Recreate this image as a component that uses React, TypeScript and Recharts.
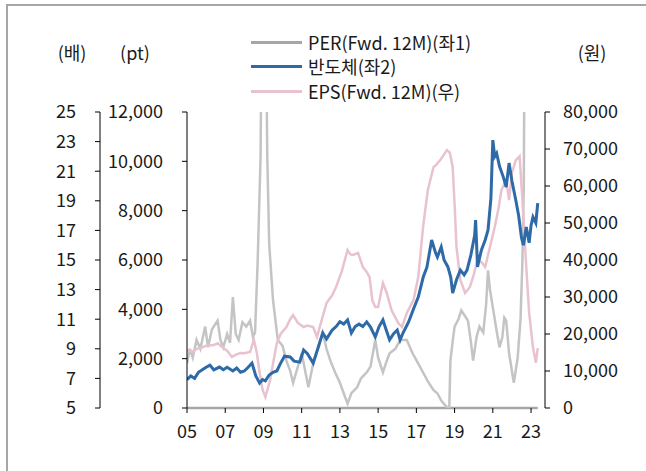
import React from 'react';
import { ComposedChart, Line, XAxis, YAxis, ReferenceLine } from 'recharts';

// PER (Fwd. 12M), left axis 1 (배)
const perYears = [
  2005.0, 2005.15, 2005.3, 2005.5, 2005.7, 2005.95, 2006.1, 2006.3, 2006.6, 2006.75, 2006.9,
  2007.1, 2007.25, 2007.4, 2007.55, 2007.7, 2007.9, 2008.1, 2008.3, 2008.45, 2008.56, 2008.7,
  2008.85, 2008.95, 2009.0, 2009.1, 2009.2, 2009.3, 2009.5, 2009.75, 2010.0, 2010.2, 2010.4,
  2010.55, 2010.8, 2011.0, 2011.2, 2011.35, 2011.6, 2011.85, 2012.1, 2012.3, 2012.5, 2012.75,
  2013.0, 2013.2, 2013.4, 2013.6, 2013.9, 2014.1, 2014.4, 2014.6, 2014.85, 2015.0, 2015.25,
  2015.4, 2015.6, 2015.9, 2016.15, 2016.5, 2016.8, 2017.1, 2017.35, 2017.6, 2017.9, 2018.1,
  2018.3, 2018.5, 2018.65, 2018.72, 2018.78, 2018.9, 2019.0, 2019.2, 2019.35, 2019.5, 2019.7,
  2019.85, 2019.97, 2020.15, 2020.3, 2020.5, 2020.65, 2020.75, 2020.85, 2021.0, 2021.2,
  2021.35, 2021.5, 2021.6, 2021.7, 2021.85, 2022.0, 2022.1, 2022.3, 2022.45, 2022.55, 2022.62,
  2022.7, 2022.8, 2023.35,
];
const perValues = [
  8.0, 9.0, 8.4, 9.6, 9.0, 10.5, 9.1, 10.3, 10.9, 9.6, 9.1,
  10.0, 9.4, 12.5, 10.0, 9.6, 10.8, 10.5, 10.9, 9.8, 10.1, 15.0,
  22, 40, 30, 35, 22, 16.1, 12.3, 9.6, 9.2, 8.2, 7.5,
  6.7, 7.8, 8.7, 7.4, 6.4, 8.0, 9.0, 10.1, 9.0, 8.2, 7.4,
  6.7, 6.0, 5.3, 6.0, 6.4, 7.0, 7.4, 7.8, 9.6, 8.4, 7.4,
  8.0, 8.7, 9.0, 9.6, 9.6, 8.7, 8.0, 7.4, 6.8, 6.2, 6.0,
  5.5, 5.2, 5.0, 4.8, 8.2, 9.5, 10.5, 11.0, 11.6, 11.3, 10.9,
  9.5, 8.2, 9.8, 10.5, 10.1, 12.0, 14.3, 13.0, 11.8, 10.2,
  9.1, 9.8, 11.1, 10.9, 8.7, 7.5, 6.7, 8.4, 11.0, 15.0, 20.0,
  40, 60, 60,
];

// 반도체 index, left axis 2 (pt)
const semiYears = [
  2005.0, 2005.2, 2005.4, 2005.6, 2005.8, 2006.0, 2006.2, 2006.4, 2006.7, 2006.9, 2007.1,
  2007.4, 2007.6, 2007.8, 2008.0, 2008.2, 2008.4, 2008.6, 2008.8, 2008.95, 2009.1, 2009.3,
  2009.5, 2009.7, 2009.9, 2010.1, 2010.4, 2010.6, 2010.9, 2011.1, 2011.3, 2011.6, 2011.8,
  2012.1, 2012.3, 2012.6, 2012.8, 2013.0, 2013.2, 2013.4, 2013.6, 2013.8, 2014.0, 2014.2,
  2014.4, 2014.6, 2014.85, 2015.05, 2015.25, 2015.45, 2015.6, 2015.8, 2016.0, 2016.15, 2016.3,
  2016.6, 2016.83, 2017.1, 2017.36, 2017.55, 2017.8, 2018.0, 2018.1, 2018.3, 2018.45, 2018.65,
  2018.8, 2018.9, 2019.1, 2019.3, 2019.5, 2019.65, 2019.85, 2020.05, 2020.1, 2020.2, 2020.4,
  2020.6, 2020.75, 2020.9, 2021.0, 2021.1, 2021.2, 2021.35, 2021.55, 2021.7, 2021.85, 2022.0,
  2022.2, 2022.35, 2022.5, 2022.6, 2022.75, 2022.9, 2023.0, 2023.1, 2023.25, 2023.35,
];
const semiValues = [
  1150, 1300, 1200, 1450, 1550, 1650, 1740, 1550, 1660, 1550, 1650,
  1500, 1620, 1450, 1500, 1650, 1820, 1300, 1010, 1150, 1100, 1340,
  1450, 1500, 1820, 2100, 2070, 1900, 1860, 2350, 2200, 1820, 2300,
  3040, 2800, 3160, 3300, 3500, 3400, 3570, 3040, 3300, 3400, 3300,
  3490, 3280, 2880, 3300, 3570, 3100, 2760, 3000, 3160, 2760, 3040,
  3500, 3970, 4500, 5310, 5700, 6810, 6300, 6120, 6530, 6000, 5720,
  5300, 4660, 5200, 5590, 5400, 5590, 6200, 7000, 7620, 5720, 6400,
  6810, 7220, 8500, 10860, 10200, 10330, 9800, 9360, 8960, 9930, 9200,
  8430, 7800, 6900, 6600, 7340, 6700, 7400, 7740, 7500, 8310,
];

// EPS (Fwd. 12M), right axis (원)
const epsYears = [
  2005.0, 2005.3, 2005.5, 2005.7, 2006.0, 2006.4, 2006.6, 2006.9, 2007.1, 2007.35, 2007.6,
  2007.8, 2008.0, 2008.3, 2008.5, 2008.65, 2008.8, 2008.95, 2009.1, 2009.35, 2009.5, 2009.7,
  2009.9, 2010.2, 2010.4, 2010.55, 2010.8, 2011.1, 2011.3, 2011.6, 2011.8, 2012.05, 2012.3,
  2012.6, 2012.8, 2013.1, 2013.4, 2013.55, 2013.7, 2013.95, 2014.2, 2014.4, 2014.55, 2014.7,
  2014.85, 2015.0, 2015.25, 2015.45, 2015.7, 2016.05, 2016.25, 2016.5, 2016.85, 2017.1, 2017.35,
  2017.6, 2017.9, 2018.0, 2018.25, 2018.6, 2018.75, 2018.9, 2019.0, 2019.1, 2019.3, 2019.55,
  2019.8, 2020.0, 2020.2, 2020.45, 2020.6, 2020.85, 2021.1, 2021.3, 2021.45, 2021.7, 2021.85,
  2022.0, 2022.2, 2022.4, 2022.55, 2022.75, 2022.9, 2023.1, 2023.25, 2023.35,
];
const epsValues = [
  15700, 15200, 16000, 16200, 16800, 17000, 17500, 16200, 15500, 13800, 14500,
  14860, 14800, 15140, 18400, 15000, 9460, 5000, 2970, 7570, 12000, 17570,
  20000, 21900, 24000, 25140, 23000, 21900, 22300, 21900, 19190, 23800, 28380,
  30500, 32700, 37000, 42700, 41500, 41350, 41900, 38100, 36800, 35400, 29000,
  27300, 27300, 33800, 31100, 26490, 22970, 21900, 25680, 29190, 35400, 48900,
  58900, 65140, 65500, 67000, 69700, 69000, 65140, 55000, 43500, 34600, 31100,
  32700, 36000, 40000, 39200, 38100, 43500, 48900, 54000, 58900, 61600, 56200,
  63500, 67000, 68000, 56200, 38100, 25700, 16500, 12200, 16200,
];

const xTickYears = [2005, 2007, 2009, 2011, 2013, 2015, 2017, 2019, 2021, 2023];
const xTickLabels = ['05', '07', '09', '11', '13', '15', '17', '19', '21', '23'];
const perTicks = [5, 7, 9, 11, 13, 15, 17, 19, 21, 23, 25];
const ptTicks = [0, 2000, 4000, 6000, 8000, 10000, 12000];
const epsTicks = [0, 10000, 20000, 30000, 40000, 50000, 60000, 70000, 80000];

const seriesNames = ['PER(Fwd. 12M)(좌1)', '반도체(좌2)', 'EPS(Fwd. 12M)(우)'];
const legendColors = ['#a6a6a6', '#2e6aa7', '#e8c2cf'];
const lineColors = ['#c4c4c4', '#2e6aa7', '#e8c2cf'];

const zip = (ts: number[], vs: number[], key: string) =>
  ts.map((t, i) => ({ t, [key]: vs[i] }));

const perData = zip(perYears, perValues, 'per');
const semiData = zip(semiYears, semiValues, 'semi');
const epsData = zip(epsYears, epsValues, 'eps');

const fmt = (v: number) => v.toLocaleString('en-US');
const TXT = '#1a1a1a';
const tickStyle = { fill: TXT, fontSize: 18 };

export default function App() {
  const lastYear = Math.max(perYears[perYears.length - 1], semiYears[semiYears.length - 1]);
  return (
    <div
      style={{
        position: 'absolute',
        left: 0,
        top: 0,
        width: 646,
        height: 471,
        background: '#fff',
        fontFamily: '"Noto Sans CJK KR", "Noto Sans", sans-serif',
        color: TXT,
      }}
    >
      <div
        style={{
          position: 'absolute',
          left: 6,
          top: 4,
          width: 640,
          height: 467,
          borderTop: '2px solid #a6a6a6',
          borderLeft: '2px solid #a6a6a6',
          boxSizing: 'border-box',
          pointerEvents: 'none',
        }}
      />
      {[
        { t: '(배)', c: 72 },
        { t: '(pt)', c: 135 },
        { t: '(원)', c: 592 },
      ].map((u) => (
        <div
          key={u.t}
          style={{
            position: 'absolute',
            left: u.c - 30,
            width: 60,
            top: 42,
            lineHeight: '20px',
            fontSize: 18,
            textAlign: 'center',
          }}
        >
          {u.t}
        </div>
      ))}
      {seriesNames.map((n, i) => (
        <div
          key={n}
          style={{
            position: 'absolute',
            left: 251,
            top: [42, 66, 91][i] - 10,
            height: 20,
            display: 'flex',
            alignItems: 'center',
            fontSize: 18,
            lineHeight: '20px',
            whiteSpace: 'nowrap',
          }}
        >
          <span style={{ display: 'inline-block', width: 51, height: 3, background: legendColors[i], marginRight: 6 }} />
          <span>{n}</span>
        </div>
      ))}
      <ComposedChart width={646} height={471} margin={{ top: 112, right: 21, bottom: 23, left: 40 }}>
        <XAxis
          dataKey="t"
          type="number"
          domain={[2005, 2023.73]}
          allowDataOverflow
          ticks={xTickYears}
          tickFormatter={(v: number) => xTickLabels[xTickYears.indexOf(v)]}
          axisLine={false}
          tickLine={{ stroke: '#000' }}
          tickSize={5}
          tickMargin={12}
          height={40}
          tick={tickStyle}
          interval={0}
        />
        <YAxis
          yAxisId="b_per"
          orientation="left"
          width={60}
          domain={[5, 25]}
          allowDataOverflow
          ticks={perTicks}
          tickSize={5}
          tickMargin={19}
          axisLine={{ stroke: '#000' }}
          tickLine={{ stroke: '#000' }}
          tick={tickStyle}
          interval={0}
        />
        <YAxis
          yAxisId="a_pt"
          orientation="left"
          width={87}
          domain={[0, 12000]}
          ticks={ptTicks}
          tickFormatter={fmt}
          tickSize={5}
          tickMargin={19}
          axisLine={{ stroke: '#000' }}
          tickLine={{ stroke: '#000' }}
          tick={tickStyle}
          interval={0}
        />
        <YAxis
          yAxisId="eps"
          orientation="right"
          width={80}
          domain={[0, 80000]}
          ticks={epsTicks}
          tickFormatter={fmt}
          tickSize={5}
          tickMargin={13}
          axisLine={{ stroke: '#000' }}
          tickLine={{ stroke: '#000' }}
          tick={tickStyle}
          interval={0}
        />
        <ReferenceLine
          yAxisId="a_pt"
          segment={[
            { x: perYears[0], y: 0 },
            { x: lastYear, y: 0 },
          ]}
          stroke="#a6a6a6"
          strokeWidth={2.5}
        />
        <Line
          data={perData}
          dataKey="per"
          yAxisId="b_per"
          type="linear"
          stroke={lineColors[0]}
          strokeWidth={2.5}
          dot={false}
          activeDot={false}
          isAnimationActive={false}
        />
        <Line
          data={epsData}
          dataKey="eps"
          yAxisId="eps"
          type="linear"
          stroke={lineColors[2]}
          strokeWidth={2.5}
          dot={false}
          activeDot={false}
          isAnimationActive={false}
        />
        <Line
          data={semiData}
          dataKey="semi"
          yAxisId="a_pt"
          type="linear"
          stroke={lineColors[1]}
          strokeWidth={3}
          dot={false}
          activeDot={false}
          isAnimationActive={false}
        />
      </ComposedChart>
    </div>
  );
}
